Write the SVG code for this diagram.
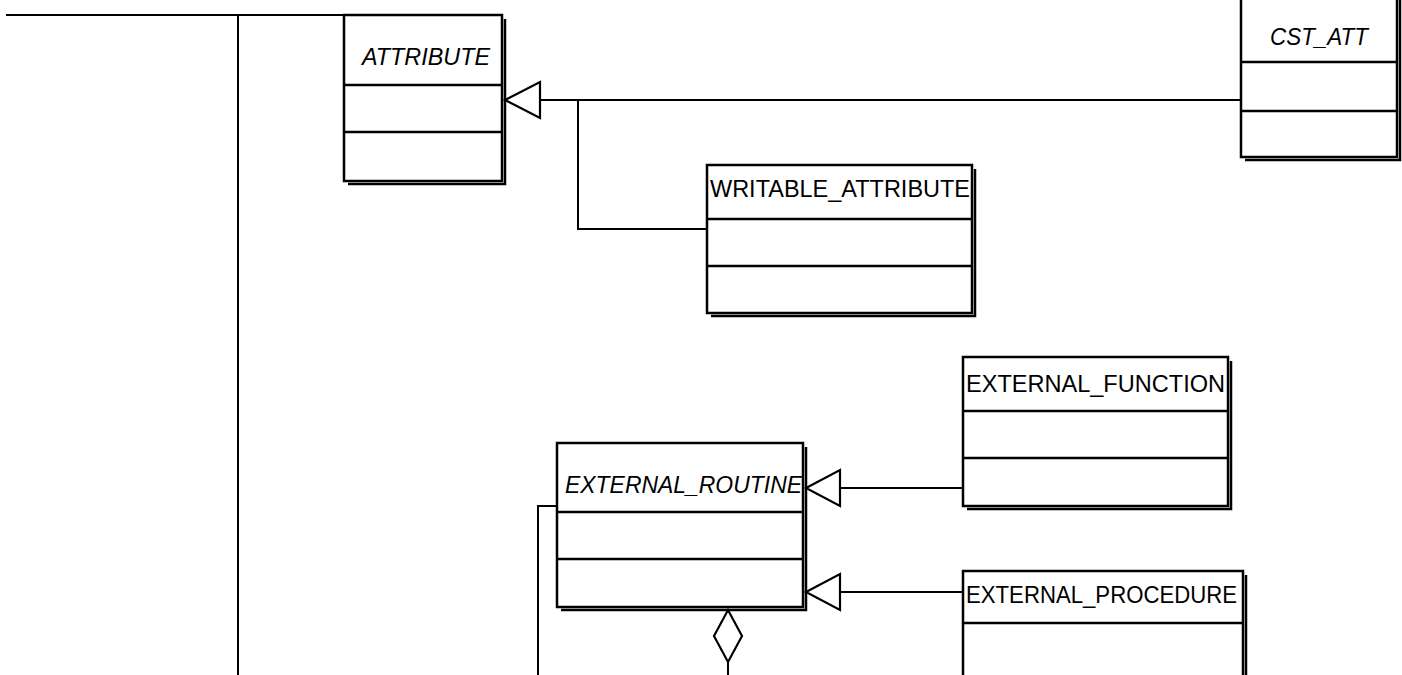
<svg xmlns="http://www.w3.org/2000/svg" width="1402" height="675" viewBox="0 0 1402 675">
<style>
.box{fill:#fff;stroke:#000;stroke-width:2.5}
.sh{fill:none;stroke:#000;stroke-width:2.5}
.div{stroke:#000;stroke-width:2.5}
.ln{fill:none;stroke:#000;stroke-width:2}
.hd{fill:#fff;stroke:#000;stroke-width:2.2}
text{font-family:"Liberation Sans",Arial,sans-serif;font-size:23.5px;fill:#000}
.it{font-style:italic}
</style>
<rect width="1402" height="675" fill="#fff"/>
<g id="connectors">
<polyline class="ln" points="6,15 344,15"/>
<polyline class="ln" points="238,15 238,675"/>
<polyline class="ln" points="540,100 1241,100"/>
<polyline class="ln" points="578,100 578,229 707,229"/>
<polyline class="ln" points="557,506 538,506 538,675"/>
<polyline class="ln" points="840,488 963,488"/>
<polyline class="ln" points="840,592 963,592"/>
<polyline class="ln" points="728,662 728,675"/>
<polygon class="hd" points="505,100 540,82 540,118"/>
<polygon class="hd" points="806,488 840,470 840,506"/>
<polygon class="hd" points="806,592 840,574 840,610"/>
<polygon class="hd" points="728,610 742,636 728,662 714,636"/>
</g>
<g id="ATTRIBUTE">
<polyline class="sh" points="348,184 505,184 505,19"/>
<rect class="box" x="344" y="15" width="158" height="166"/>
<line class="div" x1="344" y1="85" x2="502" y2="85"/>
<line class="div" x1="344" y1="132" x2="502" y2="132"/>
<text class="it" x="362" y="65" textLength="128" lengthAdjust="spacingAndGlyphs">ATTRIBUTE</text>
</g>
<g id="CST_ATT">
<polyline class="sh" points="1245,160 1400,160 1400,-4"/>
<rect class="box" x="1241" y="-8" width="156" height="165"/>
<line class="div" x1="1241" y1="62" x2="1397" y2="62"/>
<line class="div" x1="1241" y1="111" x2="1397" y2="111"/>
<text class="it" x="1270" y="45" textLength="98" lengthAdjust="spacingAndGlyphs">CST_ATT</text>
</g>
<g id="WRITABLE_ATTRIBUTE">
<polyline class="sh" points="711,316 975,316 975,169"/>
<rect class="box" x="707" y="165" width="265" height="148"/>
<line class="div" x1="707" y1="219" x2="972" y2="219"/>
<line class="div" x1="707" y1="266" x2="972" y2="266"/>
<text x="710" y="197" textLength="260" lengthAdjust="spacingAndGlyphs">WRITABLE_ATTRIBUTE</text>
</g>
<g id="EXTERNAL_ROUTINE">
<polyline class="sh" points="561,610 806,610 806,447"/>
<rect class="box" x="557" y="443" width="246" height="164"/>
<line class="div" x1="557" y1="512" x2="803" y2="512"/>
<line class="div" x1="557" y1="559" x2="803" y2="559"/>
<text class="it" x="565" y="493" textLength="237" lengthAdjust="spacingAndGlyphs">EXTERNAL_ROUTINE</text>
</g>
<g id="EXTERNAL_FUNCTION">
<polyline class="sh" points="967,509 1231,509 1231,361"/>
<rect class="box" x="963" y="357" width="265" height="149"/>
<line class="div" x1="963" y1="411" x2="1228" y2="411"/>
<line class="div" x1="963" y1="458" x2="1228" y2="458"/>
<text x="966" y="392" textLength="259" lengthAdjust="spacingAndGlyphs">EXTERNAL_FUNCTION</text>
</g>
<g id="EXTERNAL_PROCEDURE">
<polyline class="sh" points="1246,575 1246,690"/>
<rect class="box" x="963" y="571" width="280" height="120"/>
<line class="div" x1="963" y1="623" x2="1243" y2="623"/>
<text x="966" y="603" textLength="271" lengthAdjust="spacingAndGlyphs">EXTERNAL_PROCEDURE</text>
</g>
</svg>
